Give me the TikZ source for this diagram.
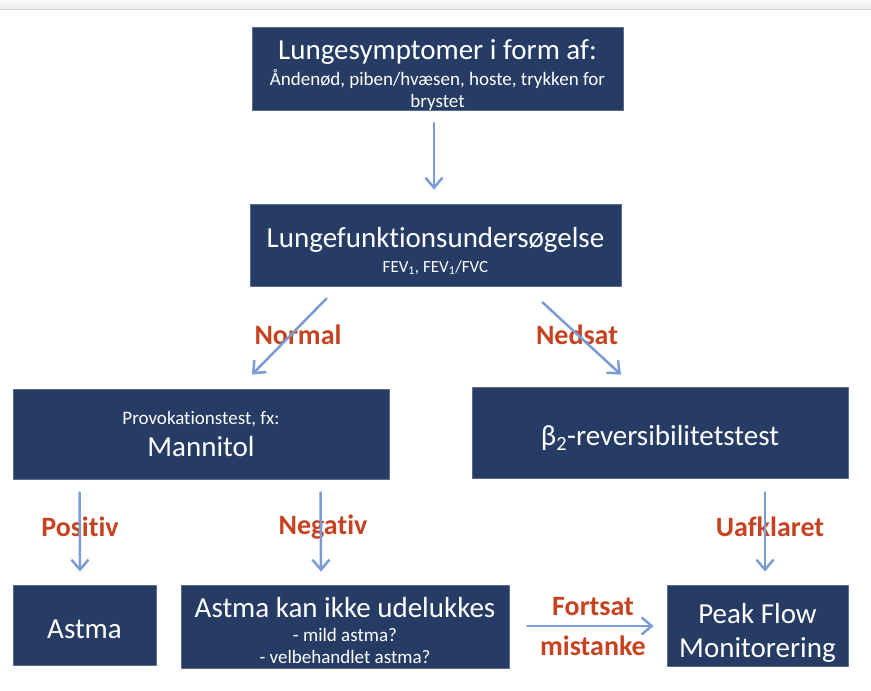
\documentclass[tikz,border=0pt]{standalone}
\usepackage{fontspec}
\setmainfont{Carlito}[Ligatures=NoCommon]
\usetikzlibrary{arrows.meta,calc}
\begin{document}
\begin{tikzpicture}[x=1pt,y=-1pt,line join=round,line cap=round]
            \definecolor{navy}{RGB}{38,60,100}
            \definecolor{rust}{RGB}{198,66,32}
            \definecolor{lyseblaa}{RGB}{122,156,210}
            \def\stor{\fontsize{29}{34}\selectfont}
            \def\loft#1{\rule{0pt}{#1}}% pushes the text a bit down in its box
            \tikzset{
                boks/.style={fill=navy,draw=navy!75!white,line width=.8pt,text=white,align=center,inner sep=0pt,font=\fontsize{19}{22}\selectfont},
                pil/.style={draw=lyseblaa,line width=2.5pt,-{Straight Barb[length=10pt,width=17pt]}},
                svar/.style={text=rust,font=\fontsize{28}{33}\selectfont\bfseries,align=center}
            }
            \useasboundingbox (0,0) rectangle (871,691);
            \fill[top color=gray!5,bottom color=gray!14] (0,0) rectangle (871,9);
            \draw[gray!35,line width=.8pt] (0,9.5)--(871,9.5);
            %kasser
            \node[boks,minimum width=371,minimum height=82] (symptom) at (437.5,69)
            {{\stor\loft{32pt}Lungesymptomer i form af:}\\[4pt]Åndenød, piben/hvæsen, hoste, trykken for\\brystet};
            \node[boks,minimum width=371,minimum height=82] (lunge) at (435.5,245)
            {{\stor\loft{32pt}Lungefunktionsundersøgelse}\\[3pt]{\fontsize{17}{19}\selectfont FEV\textsubscript{1}, FEV\textsubscript{1}/FVC}};
            \node[boks,minimum width=376,minimum height=90] (provo) at (201,434)
            {Provokationstest, fx:\\[8pt]{\stor Mannitol}};
            \node[boks,minimum width=376,minimum height=91] (beta) at (660,432.5)
            {\stor\loft{31pt}β\textsubscript{2}-reversibilitetstest};
            \node[boks,minimum width=143,minimum height=80] (astma) at (84.5,625)
            {\stor\loft{28pt}Astma};
            \node[boks,minimum width=328,minimum height=83] (kanikke) at (345,626.5)
            {{\stor\loft{29pt}Astma kan ikke udelukkes}\\[2pt]- mild astma?\\- velbehandlet astma?};
            \node[boks,minimum width=181,minimum height=81,font=\stor] (peak) at (757.5,625.5)
            {\loft{34pt}Peak Flow\\Monitorering};
            %svar
            \node[svar] (normal) at (298,335) {Normal};
            \node[svar] (nedsat) at (577,335) {Nedsat};
            \node[svar] (positiv) at (80,527) {Positiv};
            \node[svar] (negativ) at (323,527) {Negativ};
            \node[svar] (uafklaret) at (770,527) {Uafklaret};
            \node[svar] (fortsat) at (593,627) {Fortsat\\[7pt]mistanke};
            %pile
            \draw[pil] ($(symptom.south)+(-3.5,12)$)--($(lunge.north)+(-1.5,-14)$);
            \draw[pil] ($(lunge.south west)+(77,12)$)--($(provo.north)+(51,-14)$);
            \draw[pil] ($(lunge.south west)+(293,16)$)--($(beta.north)+(-39,-12)$);
            \draw[pil] ($(provo.south west)+(67,13)$)--($(astma.north)+(-4.5,-13)$);
            \draw[pil] ($(provo.south west)+(308,13)$)--($(kanikke.north)+(-24,-13)$);
            \draw[pil] ($(beta.south)+(105,14)$)--($(peak.north)+(7.5,-13)$);
            \draw[pil] ($(kanikke.east)+(18,-.5)$)--($(peak.west)+(-13,.5)$);
\end{tikzpicture}
\end{document}
